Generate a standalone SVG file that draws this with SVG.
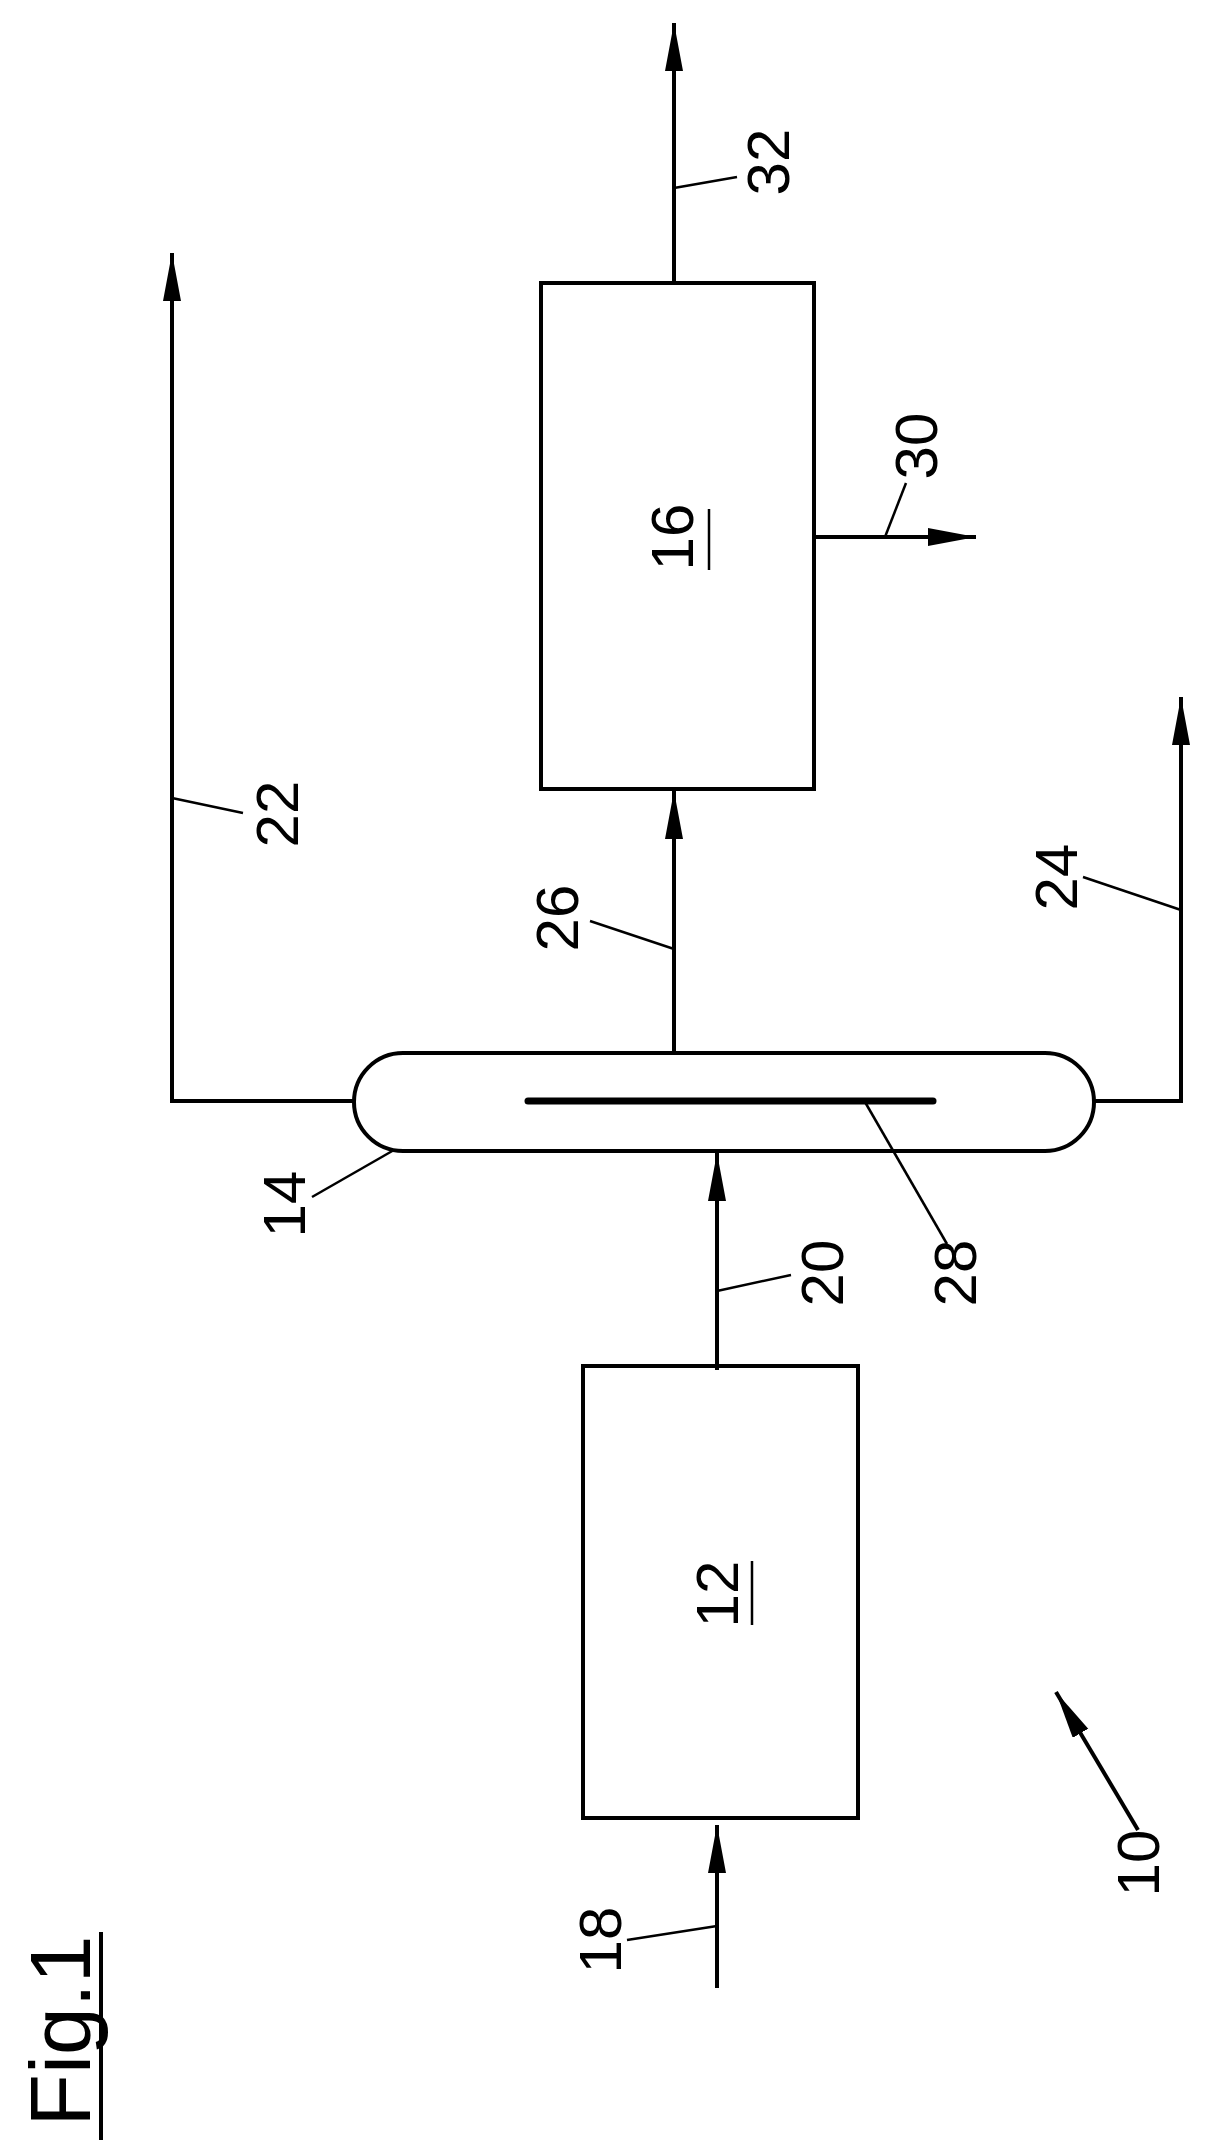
<svg xmlns="http://www.w3.org/2000/svg" width="1208" height="2142" viewBox="0 0 1208 2142">
<style>
.l{stroke:#000;stroke-width:4;fill:none}
.t{stroke:#000;stroke-width:2.5;fill:none}
.n{font-family:"Liberation Sans",Arial,sans-serif;font-size:60px;fill:#000;text-anchor:middle;dominant-baseline:central}
</style>
<defs>
<marker id="a" markerUnits="userSpaceOnUse" markerWidth="50" markerHeight="20" refX="48" refY="9" orient="auto"><path d="M0,0 L48,9 L0,18 z" fill="#000"/></marker>
</defs>
<rect width="1208" height="2142" fill="#fff"/>
<g id="connectors">
<path class="l" d="M355,1101 H172 V253" marker-end="url(#a)"/>
<path class="l" d="M1092,1101 H1181 V697" marker-end="url(#a)"/>
<path class="l" d="M674,1053 V791" marker-end="url(#a)"/>
<path class="l" d="M674,283 V23" marker-end="url(#a)"/>
<path class="l" d="M814,537 H976" marker-end="url(#a)"/>
<path class="l" d="M717,1370 V1153" marker-end="url(#a)"/>
<path class="l" d="M717,1988 V1825" marker-end="url(#a)"/>
<path class="l" d="M1138,1830 L1056,1692" marker-end="url(#a)"/>
</g>
<g id="n16"><rect class="l" x="541" y="283" width="273" height="506"/><text class="n" transform="rotate(-90 672 537)" x="672" y="537">16</text><line class="t" x1="709" y1="509" x2="709" y2="570"/></g>
<g id="n12"><rect class="l" x="583" y="1366" width="275" height="452"/><text class="n" transform="rotate(-90 717 1594)" x="717" y="1594">12</text><line class="t" x1="752" y1="1561" x2="752" y2="1625"/></g>
<g id="n14"><rect class="l" x="354" y="1053" width="740" height="98" rx="49" ry="49"/><line x1="528" y1="1101" x2="933" y2="1101" stroke="#000" stroke-width="7" stroke-linecap="round"/></g>
<g id="labels">
<line class="t" x1="674" y1="188" x2="737" y2="177"/><text class="n" transform="rotate(-90 768 162)" x="768" y="162">32</text>
<line class="t" x1="885" y1="537" x2="906" y2="483"/><text class="n" transform="rotate(-90 916 446)" x="916" y="446">30</text>
<line class="t" x1="674" y1="949" x2="590" y2="921"/><text class="n" transform="rotate(-90 557 918)" x="557" y="918">26</text>
<line class="t" x1="172" y1="798" x2="243" y2="813"/><text class="n" transform="rotate(-90 277 814)" x="277" y="814">22</text>
<line class="t" x1="1181" y1="910" x2="1083" y2="877"/><text class="n" transform="rotate(-90 1056 877)" x="1056" y="877">24</text>
<line class="t" x1="312" y1="1197" x2="394" y2="1150"/><text class="n" transform="rotate(-90 284 1204)" x="284" y="1204">14</text>
<line class="t" x1="717" y1="1291" x2="791" y2="1275"/><text class="n" transform="rotate(-90 822 1273)" x="822" y="1273">20</text>
<line class="t" x1="865" y1="1102" x2="947" y2="1244"/><text class="n" transform="rotate(-90 955 1273)" x="955" y="1273">28</text>
<line class="t" x1="627" y1="1940" x2="717" y2="1926"/><text class="n" transform="rotate(-90 600 1940)" x="600" y="1940">18</text>
<text class="n" transform="rotate(-90 1138 1863)" x="1138" y="1863">10</text>
<text class="n" style="font-size:86px" transform="rotate(-90 60 2031)" x="60" y="2031">Fig.1</text>
<line x1="101" y1="1932" x2="101" y2="2140" stroke="#000" stroke-width="4"/>
</g>
</svg>
